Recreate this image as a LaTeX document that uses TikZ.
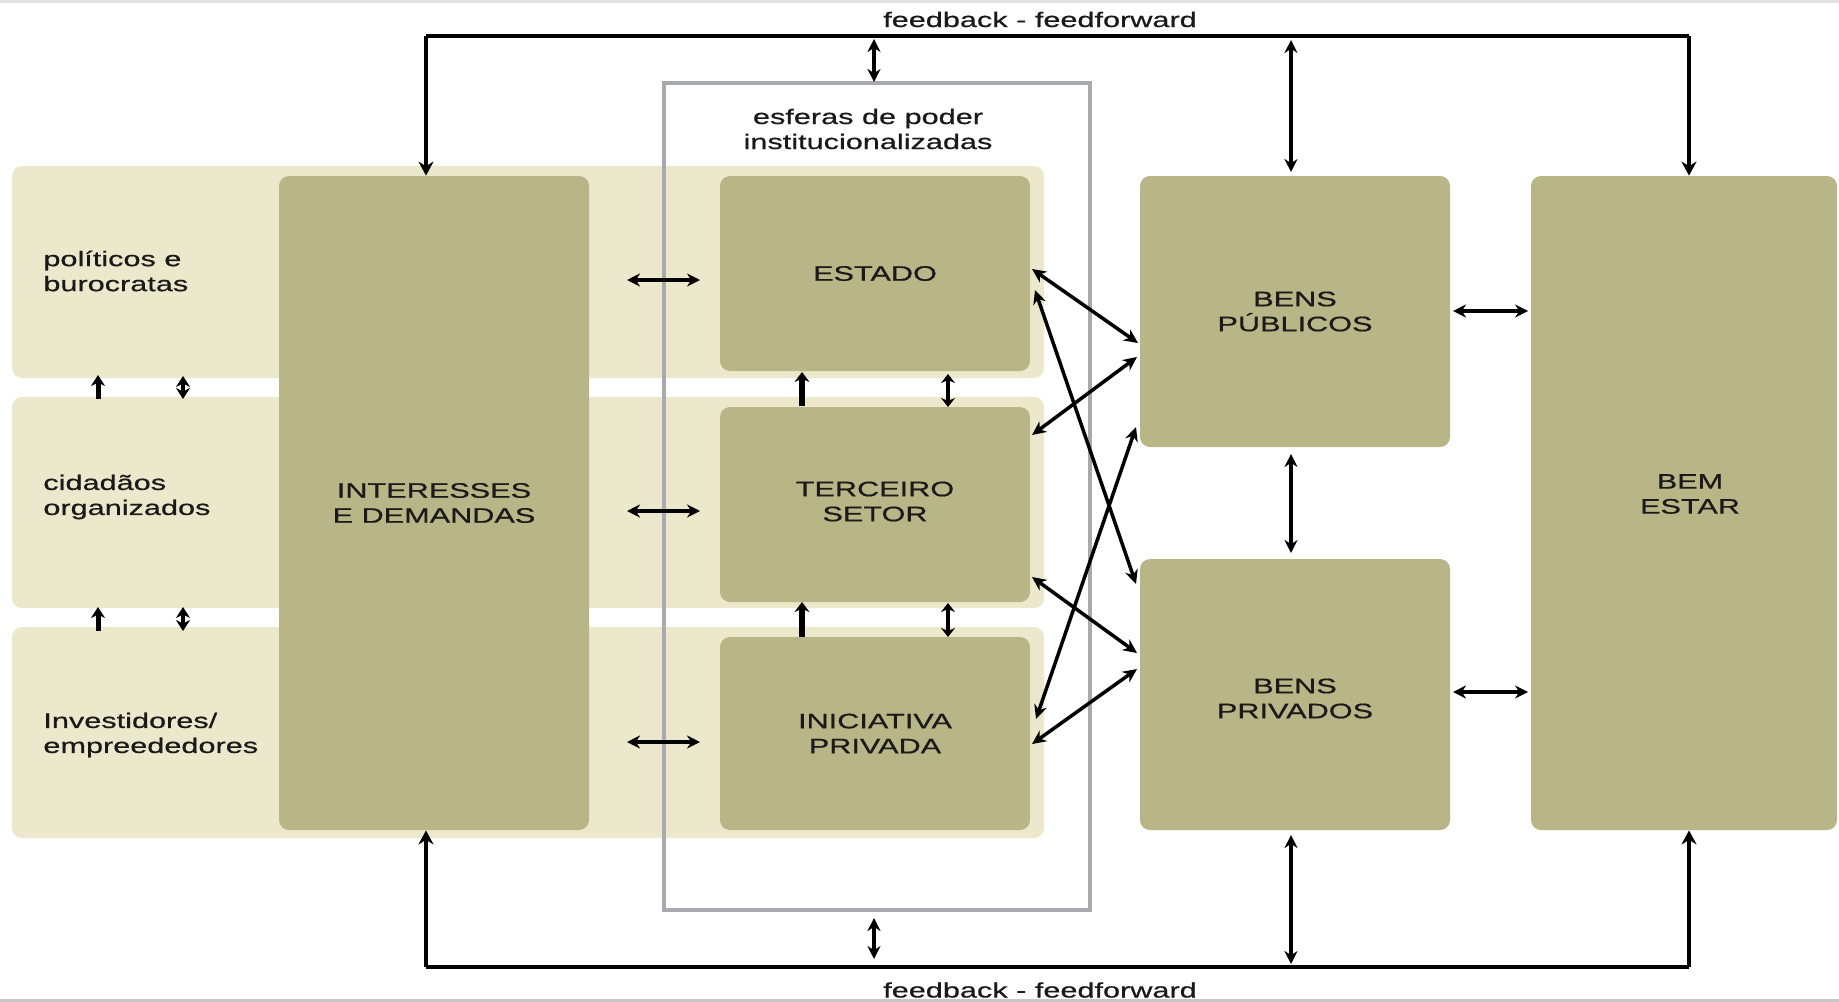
\documentclass[tikz,border=0pt]{standalone}
\usepackage{fontspec}
\setmainfont{Liberation Sans}[FakeStretch=1.46,FakeBold=0.6]
\usetikzlibrary{arrows.meta}
\definecolor{darkbox}{HTML}{B8B586}
\definecolor{lightrow}{HTML}{ECE8CB}
\definecolor{framegray}{HTML}{A9A9B0}
\definecolor{ink}{HTML}{1A1A1A}
\tikzset{
  lbl/.style={font=\fontsize{10.5}{12.5}\selectfont, text=ink, inner sep=0pt, align=center},
  dbox/.style={lbl, fill=darkbox, rounded corners=5pt},
  lrowbox/.style={fill=lightrow, rounded corners=5pt, inner sep=0pt},
  darr/.style={draw=black, line width=1.6pt, {Stealth[length=6.5pt,width=6.5pt]}-{Stealth[length=6.5pt,width=6.5pt]}},
  xarr/.style={draw=black, line width=1.75pt, {Stealth[length=7pt,width=6.5pt]}-{Stealth[length=7pt,width=6.5pt]}},
  fbline/.style={draw=black, line width=2.2pt},
  fbarr/.style={draw=black, line width=2.2pt, -{Stealth[length=7pt,width=7.5pt]}},
  uparr/.style={draw=black, line width=2.6pt, -{Stealth[length=5pt,width=7.5pt]}},
  smallup/.style={draw=black, line width=2.5pt, -{Stealth[length=5.5pt,width=7pt]}},
  tinydarr/.style={draw=black, line width=2pt, {Stealth[length=5.5pt,width=7pt]}-{Stealth[length=5.5pt,width=7pt]}},
  gapdarr/.style={draw=black, line width=2pt, {Stealth[length=4.5pt,width=7pt]}-{Stealth[length=4.5pt,width=7pt]}},
  edgeline/.style={line width=1.5pt}
}
\begin{document}
\begin{tikzpicture}[x=0.5pt,y=-0.5pt]
\useasboundingbox (0,0) rectangle (1839,1001);
\fill[white] (0,0) rectangle (1839,1001);
% thin frame lines at the picture edges
\draw[edgeline, draw=black!12] (0,1) -- (1839,1);
\draw[edgeline, draw=black!22] (0,1000) -- (1839,1000);

% light rows
\node[lrowbox, minimum width=516pt, minimum height=106pt] (r1) at (528,272) {};
\node[lrowbox, minimum width=516pt, minimum height=105.5pt] (r2) at (528,502.5) {};
\node[lrowbox, minimum width=516pt, minimum height=105.5pt] (r3) at (528,732.5) {};

% frame of institutional spheres
\node[draw=framegray, line width=2.2pt, inner sep=0pt, minimum width=213pt, minimum height=413.5pt] (frame) at (877,496.5) {};
\node[lbl] (esf) at (868,129) {esferas de poder\\institucionalizadas};

% row labels
\node[lbl, align=left, anchor=west] (lp) at (43,271) {políticos e\\burocratas};
\node[lbl, align=left, anchor=west] (lc) at (43,497) {cidadãos\\organizados};
\node[lbl, align=left, anchor=west] (li) at (43,735) {Investidores/\\empreededores};

% dark boxes
\node[dbox, minimum width=155pt, minimum height=327pt] (ie) at (434,503) {INTERESSES\\E DEMANDAS};
\node[dbox, minimum width=155pt, minimum height=97.5pt] (estado) at (875,273.5) {ESTADO};
\node[dbox, minimum width=155pt, minimum height=97.5pt] (terceiro) at (875,504.5) {};
\node[lbl] (tertxt) at ([yshift=1.5pt]terceiro.center) {TERCEIRO\\SETOR};
\node[dbox, minimum width=155pt, minimum height=96.5pt] (iniciativa) at (875,733.5) {INICIATIVA\\PRIVADA};
\node[dbox, minimum width=155pt, minimum height=135.5pt] (bpub) at (1295,311.5) {BENS\\PÚBLICOS};
\node[dbox, minimum width=155pt, minimum height=135.5pt] (bpriv) at (1295,694.5) {};
\node[lbl] (bprivtxt) at ([yshift=-2pt]bpriv.center) {BENS\\PRIVADOS};
\node[dbox, minimum width=153pt, minimum height=327pt] (bem) at (1684,503) {};
\node[lbl] (bemtxt) at ([xshift=3pt,yshift=4.5pt]bem.center) {BEM\\ESTAR};

% feedback labels
\node[lbl] (fbtop) at (1040,19.5) {feedback - feedforward};
\node[lbl] (fbbot) at (1040,990) {feedback - feedforward};

% feedback loop coordinates
\coordinate (tl) at (426,36);
\coordinate (tr) at (1689,36);
\coordinate (bl) at (426,967);
\coordinate (br) at (1689,967);
\draw[fbline] (tl) -- (tr);
\draw[fbline] (bl) -- (br);
\draw[fbarr] (tl) -- (ie.north -| tl);
\draw[fbarr] (tr) -- (bem.north -| tr);
\draw[fbarr] (bl) -- (ie.south -| bl);
\draw[fbarr] (br) -- (bem.south -| br);

% vertical double arrows to feedback lines
\coordinate (ft1) at (874,39);
\coordinate (ft2) at (874,82);
\draw[darr] (ft1) -- (ft2);
\coordinate (fb1) at (874,918);
\coordinate (fb2) at (874,959);
\draw[darr] (fb1) -- (fb2);
\coordinate (bt1) at (1291,40);
\coordinate (bt2) at (1291,172);
\draw[darr] (bt1) -- (bt2);
\coordinate (bb1) at (1291,835);
\coordinate (bb2) at (1291,964);
\draw[darr] (bb1) -- (bb2);
\coordinate (bm1) at (1291,454);
\coordinate (bm2) at (1291,553);
\draw[darr] (bm1) -- (bm2);

% horizontal double arrows left (interesses <-> spheres)
\foreach \yy/\nm in {280/a,511/b,742/c}{
  \coordinate (hl\nm) at (627,\yy);
  \coordinate (hr\nm) at (700,\yy);
  \draw[darr] (hl\nm) -- (hr\nm);
}
% horizontal double arrows right (bens <-> bem estar)
\coordinate (rp1) at (1453,311);
\coordinate (rp2) at (1528,311);
\draw[darr] (rp1) -- (rp2);
\coordinate (rq1) at (1453,692);
\coordinate (rq2) at (1528,692);
\draw[darr] (rq1) -- (rq2);

% cross arrows spheres <-> bens
\coordinate (c1a) at (1032,269); \coordinate (c1b) at (1138,343);
\coordinate (c2a) at (1035,290); \coordinate (c2b) at (1136,584);
\coordinate (c3a) at (1032,435); \coordinate (c3b) at (1137,357);
\coordinate (c4a) at (1032,577); \coordinate (c4b) at (1137,653);
\coordinate (c5a) at (1036,719); \coordinate (c5b) at (1136,427);
\coordinate (c6a) at (1032,744); \coordinate (c6b) at (1137,669);
\draw[xarr] (c1a) -- (c1b);
\draw[xarr] (c2a) -- (c2b);
\draw[xarr] (c3a) -- (c3b);
\draw[xarr] (c4a) -- (c4b);
\draw[xarr] (c5a) -- (c5b);
\draw[xarr] (c6a) -- (c6b);

% gap arrows between spheres
\coordinate (g1a) at (802,406); \coordinate (g1b) at (802,372);
\draw[uparr] (g1a) -- (g1b);
\coordinate (g2a) at (948,374); \coordinate (g2b) at (948,407);
\draw[gapdarr] (g2a) -- (g2b);
\coordinate (g3a) at (802,637); \coordinate (g3b) at (802,602);
\draw[uparr] (g3a) -- (g3b);
\coordinate (g4a) at (948,603); \coordinate (g4b) at (948,637);
\draw[gapdarr] (g4a) -- (g4b);

% gap arrows between row labels
\coordinate (l1a) at (98,399); \coordinate (l1b) at (98,375);
\draw[smallup] (l1a) -- (l1b);
\coordinate (l2a) at (183,376); \coordinate (l2b) at (183,399);
\draw[tinydarr] (l2a) -- (l2b);
\coordinate (l3a) at (98,631); \coordinate (l3b) at (98,607);
\draw[smallup] (l3a) -- (l3b);
\coordinate (l4a) at (183,607); \coordinate (l4b) at (183,631);
\draw[tinydarr] (l4a) -- (l4b);
\end{tikzpicture}
\end{document}
